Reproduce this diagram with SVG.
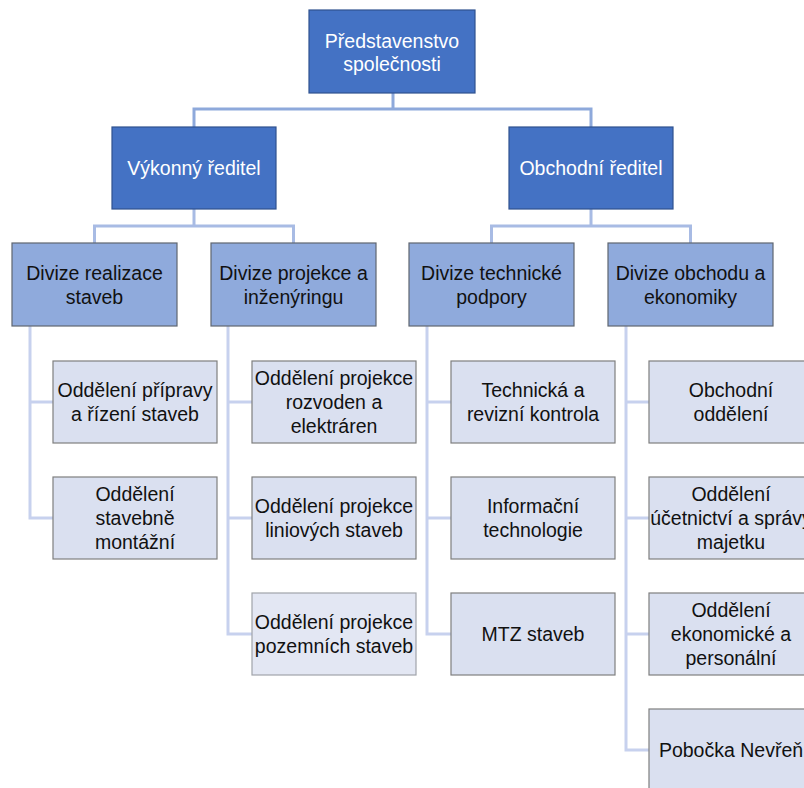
<svg xmlns="http://www.w3.org/2000/svg" width="804" height="788" viewBox="0 0 804 788">
<style>
text{font-family:"Liberation Sans",Arial,sans-serif;font-size:19.5px;text-anchor:middle}
.b1 rect{fill:#4472C4;stroke:#2F528F;stroke-width:1.2}
.b1 text{fill:#ffffff}
.b3 rect{fill:#8FAADC;stroke:#5F6670;stroke-width:1.2}
.b4 rect{fill:#DAE0F0;stroke:#7F7F7F;stroke-width:1.2}
.b3 text,.b4 text{fill:#111111}
.c{fill:none;stroke-width:3;stroke-linejoin:miter}
.c1{stroke:#8EA9DB}
.c2{stroke:#A8BBE4}
.c3{stroke:#C7D1EE}
</style>
<rect width="804" height="788" fill="#ffffff"/>
<g id="connectors">
<path class="c c1" d="M393,93 V109 M194,127 V109 H591 V127"/>
<path class="c c2" d="M194,209 V226 M94.5,243 V226 H293.5 V243 M591,209 V226 M491.5,243 V226 H690.5 V243"/>
<path class="c c3" d="M30,326 V518 H53 M30,402 H53"/>
<path class="c c3" d="M228,326 V634 H252 M228,402 H252 M228,518 H252"/>
<path class="c c3" d="M427,326 V634 H451 M427,402 H451 M427,518 H451"/>
<path class="c c3" d="M626,326 V750 H649 M626,402 H649 M626,518 H649 M626,634 H649"/>
</g>
<g id="n-predstavenstvo" class="b1"><rect x="309" y="10" width="166" height="83"/><text x="392" y="48">Představenstvo</text><text x="392" y="71">společnosti</text></g>
<g id="n-vykonny" class="b1"><rect x="112" y="127" width="164" height="82"/><text x="194" y="175">Výkonný ředitel</text></g>
<g id="n-obchodni" class="b1"><rect x="509" y="127" width="164" height="82"/><text x="591" y="175">Obchodní ředitel</text></g>
<g id="n-div-realizace" class="b3"><rect x="12" y="243" width="165" height="83"/><text x="94.5" y="279.5">Divize realizace</text><text x="94.5" y="303.5">staveb</text></g>
<g id="n-div-projekce" class="b3"><rect x="211" y="243" width="165" height="83"/><text x="293.5" y="279.5">Divize projekce a</text><text x="293.5" y="303.5">inženýringu</text></g>
<g id="n-div-technicke" class="b3"><rect x="409" y="243" width="165" height="83"/><text x="491.5" y="279.5">Divize technické</text><text x="491.5" y="303.5">podpory</text></g>
<g id="n-div-obchodu" class="b3"><rect x="608" y="243" width="165" height="83"/><text x="690.5" y="279.5">Divize obchodu a</text><text x="690.5" y="303.5">ekonomiky</text></g>
<g id="n-priprava" class="b4"><rect x="53" y="361" width="164" height="82"/><text x="135" y="396.5">Oddělení přípravy</text><text x="135" y="420.5">a řízení staveb</text></g>
<g id="n-stavebne" class="b4"><rect x="53" y="477" width="164" height="82"/><text x="135" y="500.5">Oddělení</text><text x="135" y="524.5">stavebně</text><text x="135" y="548.5">montážní</text></g>
<g id="n-rozvoden" class="b4"><rect x="252" y="361" width="164" height="82"/><text x="334" y="384.5">Oddělení projekce</text><text x="334" y="408.5">rozvoden a</text><text x="334" y="432.5">elektráren</text></g>
<g id="n-liniovych" class="b4"><rect x="252" y="477" width="164" height="82"/><text x="334" y="512.5">Oddělení projekce</text><text x="334" y="536.5">liniových staveb</text></g>
<g id="n-pozemnich" class="b4"><rect x="252" y="593" width="164" height="82" style="fill:#E3E7F3;stroke:#A0A4AA"/><text x="334" y="628.5">Oddělení projekce</text><text x="334" y="652.5">pozemních staveb</text></g>
<g id="n-technicka" class="b4"><rect x="451" y="361" width="164" height="82"/><text x="533" y="396.5">Technická a</text><text x="533" y="420.5">revizní kontrola</text></g>
<g id="n-informacni" class="b4"><rect x="451" y="477" width="164" height="82"/><text x="533" y="512.5">Informační</text><text x="533" y="536.5">technologie</text></g>
<g id="n-mtz" class="b4"><rect x="451" y="593" width="164" height="82"/><text x="533" y="641">MTZ staveb</text></g>
<g id="n-obchodni-odd" class="b4"><rect x="649" y="361" width="164" height="82"/><text x="731" y="396.5">Obchodní</text><text x="731" y="420.5">oddělení</text></g>
<g id="n-ucetnictvi" class="b4"><rect x="649" y="477" width="164" height="82"/><text x="731" y="500.5">Oddělení</text><text x="731" y="524.5">účetnictví a správy</text><text x="731" y="548.5">majetku</text></g>
<g id="n-ekonomicke" class="b4"><rect x="649" y="593" width="164" height="82"/><text x="731" y="616.5">Oddělení</text><text x="731" y="640.5">ekonomické a</text><text x="731" y="664.5">personální</text></g>
<g id="n-pobocka" class="b4"><rect x="649" y="709" width="164" height="82"/><text x="731" y="757">Pobočka Nevřeň</text></g>
</svg>
